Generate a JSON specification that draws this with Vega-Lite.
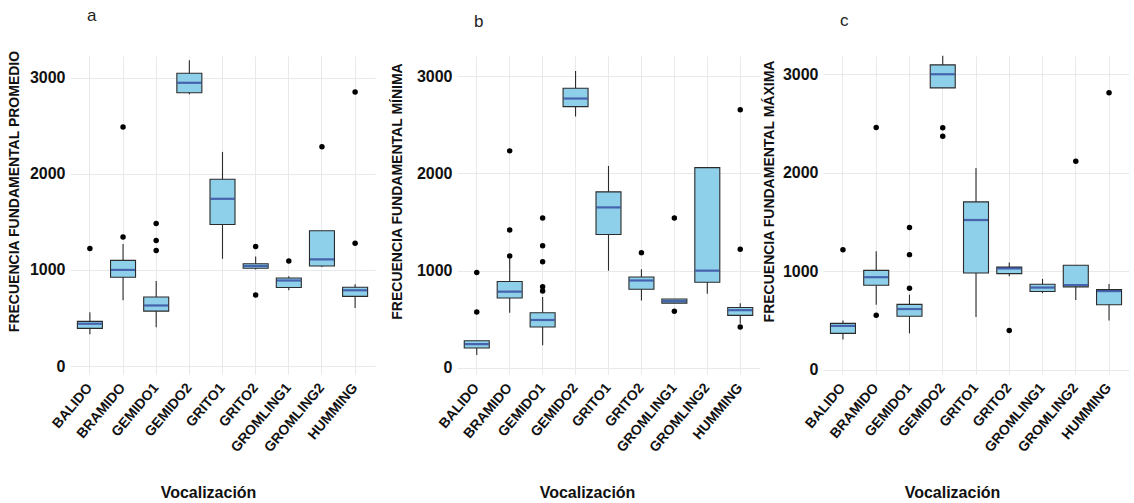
{
  "$schema": "https://vega.github.io/schema/vega-lite/v6.json",
  "background": "white",
  "padding": {"left": 7, "top": 6, "right": 0, "bottom": 0},
  "datasets": {
    "box": [
      {"panel": "a", "voc": "BALIDO", "lower": 330, "q1": 392, "median": 440, "q3": 465, "upper": 560},
      {"panel": "a", "voc": "BRAMIDO", "lower": 685, "q1": 923, "median": 1000, "q3": 1099, "upper": 1270},
      {"panel": "a", "voc": "GEMIDO1", "lower": 403, "q1": 571, "median": 630, "q3": 718, "upper": 886},
      {"panel": "a", "voc": "GEMIDO2", "lower": 2828, "q1": 2844, "median": 2947, "q3": 3046, "upper": 3182},
      {"panel": "a", "voc": "GRITO1", "lower": 1116, "q1": 1473, "median": 1740, "q3": 1944, "upper": 2228},
      {"panel": "a", "voc": "GRITO2", "lower": 1005, "q1": 1017, "median": 1041, "q3": 1065, "upper": 1140},
      {"panel": "a", "voc": "GROMLING1", "lower": 788, "q1": 817, "median": 890, "q3": 916, "upper": 934},
      {"panel": "a", "voc": "GROMLING2", "lower": 1030, "q1": 1041, "median": 1110, "q3": 1407, "upper": 1407},
      {"panel": "a", "voc": "HUMMING", "lower": 604, "q1": 725, "median": 788, "q3": 820, "upper": 850},
      {"panel": "b", "voc": "BALIDO", "lower": 133, "q1": 205, "median": 245, "q3": 280, "upper": 280},
      {"panel": "b", "voc": "BRAMIDO", "lower": 568, "q1": 719, "median": 784, "q3": 889, "upper": 1126},
      {"panel": "b", "voc": "GEMIDO1", "lower": 234, "q1": 421, "median": 493, "q3": 568, "upper": 730},
      {"panel": "b", "voc": "GEMIDO2", "lower": 2584, "q1": 2686, "median": 2769, "q3": 2875, "upper": 3053},
      {"panel": "b", "voc": "GRITO1", "lower": 1000, "q1": 1371, "median": 1650, "q3": 1810, "upper": 2076},
      {"panel": "b", "voc": "GRITO2", "lower": 694, "q1": 809, "median": 899, "q3": 935, "upper": 1014},
      {"panel": "b", "voc": "GROMLING1", "lower": 666, "q1": 666, "median": 687, "q3": 709, "upper": 709},
      {"panel": "b", "voc": "GROMLING2", "lower": 763, "q1": 881, "median": 1000, "q3": 2059, "upper": 2059},
      {"panel": "b", "voc": "HUMMING", "lower": 455, "q1": 540, "median": 594, "q3": 622, "upper": 665},
      {"panel": "c", "voc": "BALIDO", "lower": 309, "q1": 371, "median": 447, "q3": 473, "upper": 502},
      {"panel": "c", "voc": "BRAMIDO", "lower": 662, "q1": 859, "median": 941, "q3": 1010, "upper": 1203},
      {"panel": "c", "voc": "GEMIDO1", "lower": 371, "q1": 545, "median": 618, "q3": 665, "upper": 764},
      {"panel": "c", "voc": "GEMIDO2", "lower": 2862, "q1": 2862, "median": 3000, "q3": 3095, "upper": 3187},
      {"panel": "c", "voc": "GRITO1", "lower": 538, "q1": 984, "median": 1521, "q3": 1705, "upper": 2049},
      {"panel": "c", "voc": "GRITO2", "lower": 950, "q1": 977, "median": 1030, "q3": 1043, "upper": 1089},
      {"panel": "c", "voc": "GROMLING1", "lower": 778, "q1": 796, "median": 836, "q3": 869, "upper": 924},
      {"panel": "c", "voc": "GROMLING2", "lower": 709, "q1": 843, "median": 862, "q3": 1062, "upper": 1062},
      {"panel": "c", "voc": "HUMMING", "lower": 502, "q1": 662, "median": 800, "q3": 815, "upper": 873}
    ],
    "out": [
      {"panel": "a", "voc": "BALIDO", "value": 1223},
      {"panel": "a", "voc": "BRAMIDO", "value": 1342},
      {"panel": "a", "voc": "BRAMIDO", "value": 2487},
      {"panel": "a", "voc": "GEMIDO1", "value": 1202},
      {"panel": "a", "voc": "GEMIDO1", "value": 1305},
      {"panel": "a", "voc": "GEMIDO1", "value": 1483},
      {"panel": "a", "voc": "GRITO2", "value": 1243},
      {"panel": "a", "voc": "GRITO2", "value": 740},
      {"panel": "a", "voc": "GROMLING1", "value": 1092},
      {"panel": "a", "voc": "GROMLING2", "value": 2281},
      {"panel": "a", "voc": "HUMMING", "value": 1277},
      {"panel": "a", "voc": "HUMMING", "value": 2851},
      {"panel": "b", "voc": "BALIDO", "value": 575},
      {"panel": "b", "voc": "BALIDO", "value": 982},
      {"panel": "b", "voc": "BRAMIDO", "value": 1150},
      {"panel": "b", "voc": "BRAMIDO", "value": 1418},
      {"panel": "b", "voc": "BRAMIDO", "value": 2231},
      {"panel": "b", "voc": "GEMIDO1", "value": 791},
      {"panel": "b", "voc": "GEMIDO1", "value": 835},
      {"panel": "b", "voc": "GEMIDO1", "value": 1092},
      {"panel": "b", "voc": "GEMIDO1", "value": 1255},
      {"panel": "b", "voc": "GEMIDO1", "value": 1541},
      {"panel": "b", "voc": "GRITO2", "value": 1184},
      {"panel": "b", "voc": "GROMLING1", "value": 1541},
      {"panel": "b", "voc": "GROMLING1", "value": 583},
      {"panel": "b", "voc": "HUMMING", "value": 421},
      {"panel": "b", "voc": "HUMMING", "value": 1221},
      {"panel": "b", "voc": "HUMMING", "value": 2653},
      {"panel": "c", "voc": "BALIDO", "value": 1220},
      {"panel": "c", "voc": "BRAMIDO", "value": 556},
      {"panel": "c", "voc": "BRAMIDO", "value": 2459},
      {"panel": "c", "voc": "GEMIDO1", "value": 830},
      {"panel": "c", "voc": "GEMIDO1", "value": 1170},
      {"panel": "c", "voc": "GEMIDO1", "value": 1446},
      {"panel": "c", "voc": "GEMIDO2", "value": 2456},
      {"panel": "c", "voc": "GEMIDO2", "value": 2370},
      {"panel": "c", "voc": "GRITO2", "value": 400},
      {"panel": "c", "voc": "GROMLING2", "value": 2118},
      {"panel": "c", "voc": "HUMMING", "value": 2813}
    ]
  },
  "config": {
    "view": {"stroke": null},
    "font": "Liberation Sans",
    "title": {"font": "Liberation Sans", "fontSize": 17, "fontWeight": "normal", "color": "#222222", "anchor": "start", "frame": "group", "offset": 25, "dx": 17},
    "axis": {
      "grid": true,
      "gridColor": "#E6E6E6",
      "gridWidth": 0.9,
      "domain": false,
      "ticks": false,
      "labelColor": "#111111",
      "titleColor": "#111111",
      "labelFont": "Liberation Sans",
      "labelFontWeight": "bold",
      "titleFont": "Liberation Sans",
      "titleFontWeight": "bold"
    },
    "axisX": {
      "labelAngle": -50,
      "labelAlign": "right",
      "labelBaseline": "middle",
      "labelFontSize": 14,
      "labelPadding": 11,
      "titleFontSize": 16,
      "titleY": 110,
      "titleX": 138
    },
    "axisY": {
      "labelFontSize": 16,
      "labelPadding": 5,
      "titleFontSize": 14,
      "titleY": 135
    }
  },
  "bounds": "flush",
  "spacing": 82,
  "hconcat": [
    {
      "width": 305,
      "height": 318,
      "title": {"text": "a"},
      "layer": [
        {
          "data": {"name": "box"},
          "transform": [{"filter": "datum.panel == 'a'"}],
          "mark": {"type": "rule", "color": "#2b2b2b", "strokeWidth": 1.1},
          "encoding": {
            "x": {"field": "voc", "type": "nominal", "sort": null, "scale": {"type": "band", "paddingInner": 0, "paddingOuter": 0.1}, "title": "Vocalización"},
            "y": {"field": "lower", "type": "quantitative", "scale": {"domain": [-83, 3226], "nice": false, "zero": false}, "title": "FRECUENCIA FUNDAMENTAL PROMEDIO", "axis": {"titlePadding": 8, "values": [0, 1000, 2000, 3000], "format": "d"}},
            "y2": {"field": "upper"}
          }
        },
        {
          "data": {"name": "box"},
          "transform": [{"filter": "datum.panel == 'a'"}],
          "mark": {"type": "bar", "size": 25, "fill": "#8ECFE9", "stroke": "#2b2b2b", "strokeWidth": 1.1},
          "encoding": {
            "x": {"field": "voc", "type": "nominal", "sort": null},
            "y": {"field": "q1", "type": "quantitative"},
            "y2": {"field": "q3"}
          }
        },
        {
          "data": {"name": "box"},
          "transform": [{"filter": "datum.panel == 'a'"}],
          "mark": {"type": "tick", "size": 24, "thickness": 2.2, "color": "#283593", "orient": "horizontal"},
          "encoding": {
            "x": {"field": "voc", "type": "nominal", "sort": null},
            "y": {"field": "median", "type": "quantitative"}
          }
        },
        {
          "data": {"name": "out"},
          "transform": [{"filter": "datum.panel == 'a'"}],
          "mark": {"type": "circle", "size": 30, "color": "#000000", "opacity": 1},
          "encoding": {
            "x": {"field": "voc", "type": "nominal", "sort": null},
            "y": {"field": "value", "type": "quantitative"}
          }
        }
      ]
    },
    {
      "bounds": "flush",
      "spacing": 63,
      "hconcat": [
        {
          "width": 303,
          "height": 318,
          "title": {"text": "b"},
          "layer": [
            {
              "data": {"name": "box"},
              "transform": [{"filter": "datum.panel == 'b'"}],
              "mark": {"type": "rule", "color": "#2b2b2b", "strokeWidth": 1.1},
              "encoding": {
                "x": {"field": "voc", "type": "nominal", "sort": null, "scale": {"type": "band", "paddingInner": 0, "paddingOuter": 0.1}, "title": "Vocalización", "axis": {"titleX": 130}},
                "y": {"field": "lower", "type": "quantitative", "scale": {"domain": [-62, 3206], "nice": false, "zero": false}, "title": "FRECUENCIA FUNDAMENTAL MÍNIMA", "axis": {"titlePadding": 12, "values": [0, 1000, 2000, 3000], "format": "d"}},
                "y2": {"field": "upper"}
              }
            },
            {
              "data": {"name": "box"},
              "transform": [{"filter": "datum.panel == 'b'"}],
              "mark": {"type": "bar", "size": 25, "fill": "#8ECFE9", "stroke": "#2b2b2b", "strokeWidth": 1.1},
              "encoding": {
                "x": {"field": "voc", "type": "nominal", "sort": null},
                "y": {"field": "q1", "type": "quantitative"},
                "y2": {"field": "q3"}
              }
            },
            {
              "data": {"name": "box"},
              "transform": [{"filter": "datum.panel == 'b'"}],
              "mark": {"type": "tick", "size": 24, "thickness": 2.2, "color": "#283593", "orient": "horizontal"},
              "encoding": {
                "x": {"field": "voc", "type": "nominal", "sort": null},
                "y": {"field": "median", "type": "quantitative"}
              }
            },
            {
              "data": {"name": "out"},
              "transform": [{"filter": "datum.panel == 'b'"}],
              "mark": {"type": "circle", "size": 30, "color": "#000000", "opacity": 1},
              "encoding": {
                "x": {"field": "voc", "type": "nominal", "sort": null},
                "y": {"field": "value", "type": "quantitative"}
              }
            }
          ]
        },
        {
          "width": 306,
          "height": 318,
          "title": {"text": "c"},
          "layer": [
            {
              "data": {"name": "box"},
              "transform": [{"filter": "datum.panel == 'c'"}],
              "mark": {"type": "rule", "color": "#2b2b2b", "strokeWidth": 1.1},
              "encoding": {
                "x": {"field": "voc", "type": "nominal", "sort": null, "scale": {"type": "band", "paddingInner": 0, "paddingOuter": 0.1}, "title": "Vocalización", "axis": {"titleX": 129}},
                "y": {"field": "lower", "type": "quantitative", "scale": {"domain": [-41, 3185], "nice": false, "zero": false}, "title": "FRECUENCIA FUNDAMENTAL MÁXIMA", "axis": {"titlePadding": 6, "values": [0, 1000, 2000, 3000], "format": "d"}},
                "y2": {"field": "upper"}
              }
            },
            {
              "data": {"name": "box"},
              "transform": [{"filter": "datum.panel == 'c'"}],
              "mark": {"type": "bar", "size": 25, "fill": "#8ECFE9", "stroke": "#2b2b2b", "strokeWidth": 1.1},
              "encoding": {
                "x": {"field": "voc", "type": "nominal", "sort": null},
                "y": {"field": "q1", "type": "quantitative"},
                "y2": {"field": "q3"}
              }
            },
            {
              "data": {"name": "box"},
              "transform": [{"filter": "datum.panel == 'c'"}],
              "mark": {"type": "tick", "size": 24, "thickness": 2.2, "color": "#283593", "orient": "horizontal"},
              "encoding": {
                "x": {"field": "voc", "type": "nominal", "sort": null},
                "y": {"field": "median", "type": "quantitative"}
              }
            },
            {
              "data": {"name": "out"},
              "transform": [{"filter": "datum.panel == 'c'"}],
              "mark": {"type": "circle", "size": 30, "color": "#000000", "opacity": 1},
              "encoding": {
                "x": {"field": "voc", "type": "nominal", "sort": null},
                "y": {"field": "value", "type": "quantitative"}
              }
            }
          ]
        }
      ]
    }
  ]
}
